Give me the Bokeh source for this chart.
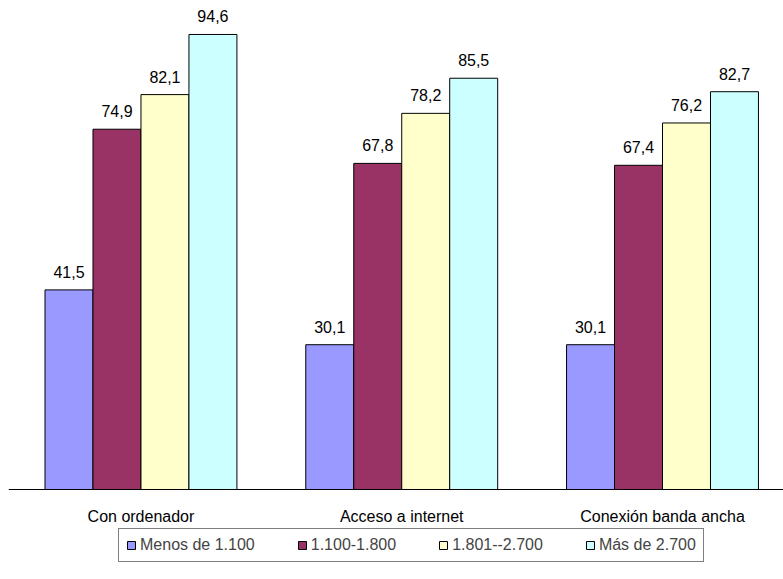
from bokeh.plotting import figure
from bokeh.models import ColumnDataSource, Legend, LegendItem, LabelSet, Range1d, FixedTicker
from bokeh.core.properties import value
from bokeh.embed import file_html
from bokeh.resources import INLINE

categories = ["Con ordenador", "Acceso a internet", "Conexión banda ancha"]
series = ["Menos de 1.100", "1.100-1.800", "1.801--2.700", "Más de 2.700"]
menos_1100 = [41.5, 30.1, 30.1]
s_1100_1800 = [74.9, 67.8, 67.4]
s_1801_2700 = [82.1, 78.2, 76.2]
mas_2700 = [94.6, 85.5, 82.7]
colors = ["#9999FF", "#993366", "#FFFFCC", "#CCFFFF"]

values = [menos_1100, s_1100_1800, s_1801_2700, mas_2700]
offsets = [-0.276, -0.092, 0.092, 0.276]
bar_w = 0.184
centers = [i + 0.5 for i in range(len(categories))]

FONT = "Liberation Sans"

p = figure(x_range=Range1d(-0.008, 2.964), y_range=Range1d(-17.05, 100),
           frame_width=775, frame_height=563, output_backend="svg", toolbar_location=None,
           min_border_left=8, min_border_right=0, min_border_top=8, min_border_bottom=0)
p.outline_line_color = None
p.grid.grid_line_color = None
p.yaxis.visible = False

items = []
for name, vals, col, off in zip(series, values, colors, offsets):
    src = ColumnDataSource(dict(x=[c + off for c in centers], val=vals,
                                lab=[f"{v:.1f}".replace(".", ",") for v in vals]))
    r = p.vbar(x="x", top="val", width=bar_w, source=src,
               fill_color=col, line_color="black", line_width=1)
    items.append(LegendItem(label=name, renderers=[r]))
    lbl = LabelSet(x="x", y="val", text="lab", source=src,
                   text_align="center", text_baseline="bottom", y_offset=12,
                   text_font=value(FONT), text_font_size="16px", text_color="black")
    p.add_layout(lbl)

p.xaxis.fixed_location = 0
p.xaxis.ticker = FixedTicker(ticks=centers)
p.xaxis.major_label_overrides = {c: name for c, name in zip(centers, categories)}
p.xaxis.axis_line_color = "black"
p.xaxis.axis_line_width = 1
p.xaxis.major_tick_line_color = None
p.xaxis.minor_tick_line_color = None
p.xaxis.major_tick_out = 0
p.xaxis.major_tick_in = 0
p.xaxis.minor_tick_out = 0
p.xaxis.major_label_standoff = 19
p.xaxis.major_label_text_font = FONT
p.xaxis.major_label_text_font_size = "16px"
p.xaxis.major_label_text_color = "black"

legend = Legend(items=items, orientation="horizontal", location=(110, 9),
                border_line_color="black", border_line_width=1,
                label_text_font=FONT, label_text_font_size="16px",
                glyph_width=10, glyph_height=10, spacing=42, padding=7,
                label_standoff=4, margin=0)
p.add_layout(legend, "center")

open("out.html", "w").write(file_html(p, INLINE))
